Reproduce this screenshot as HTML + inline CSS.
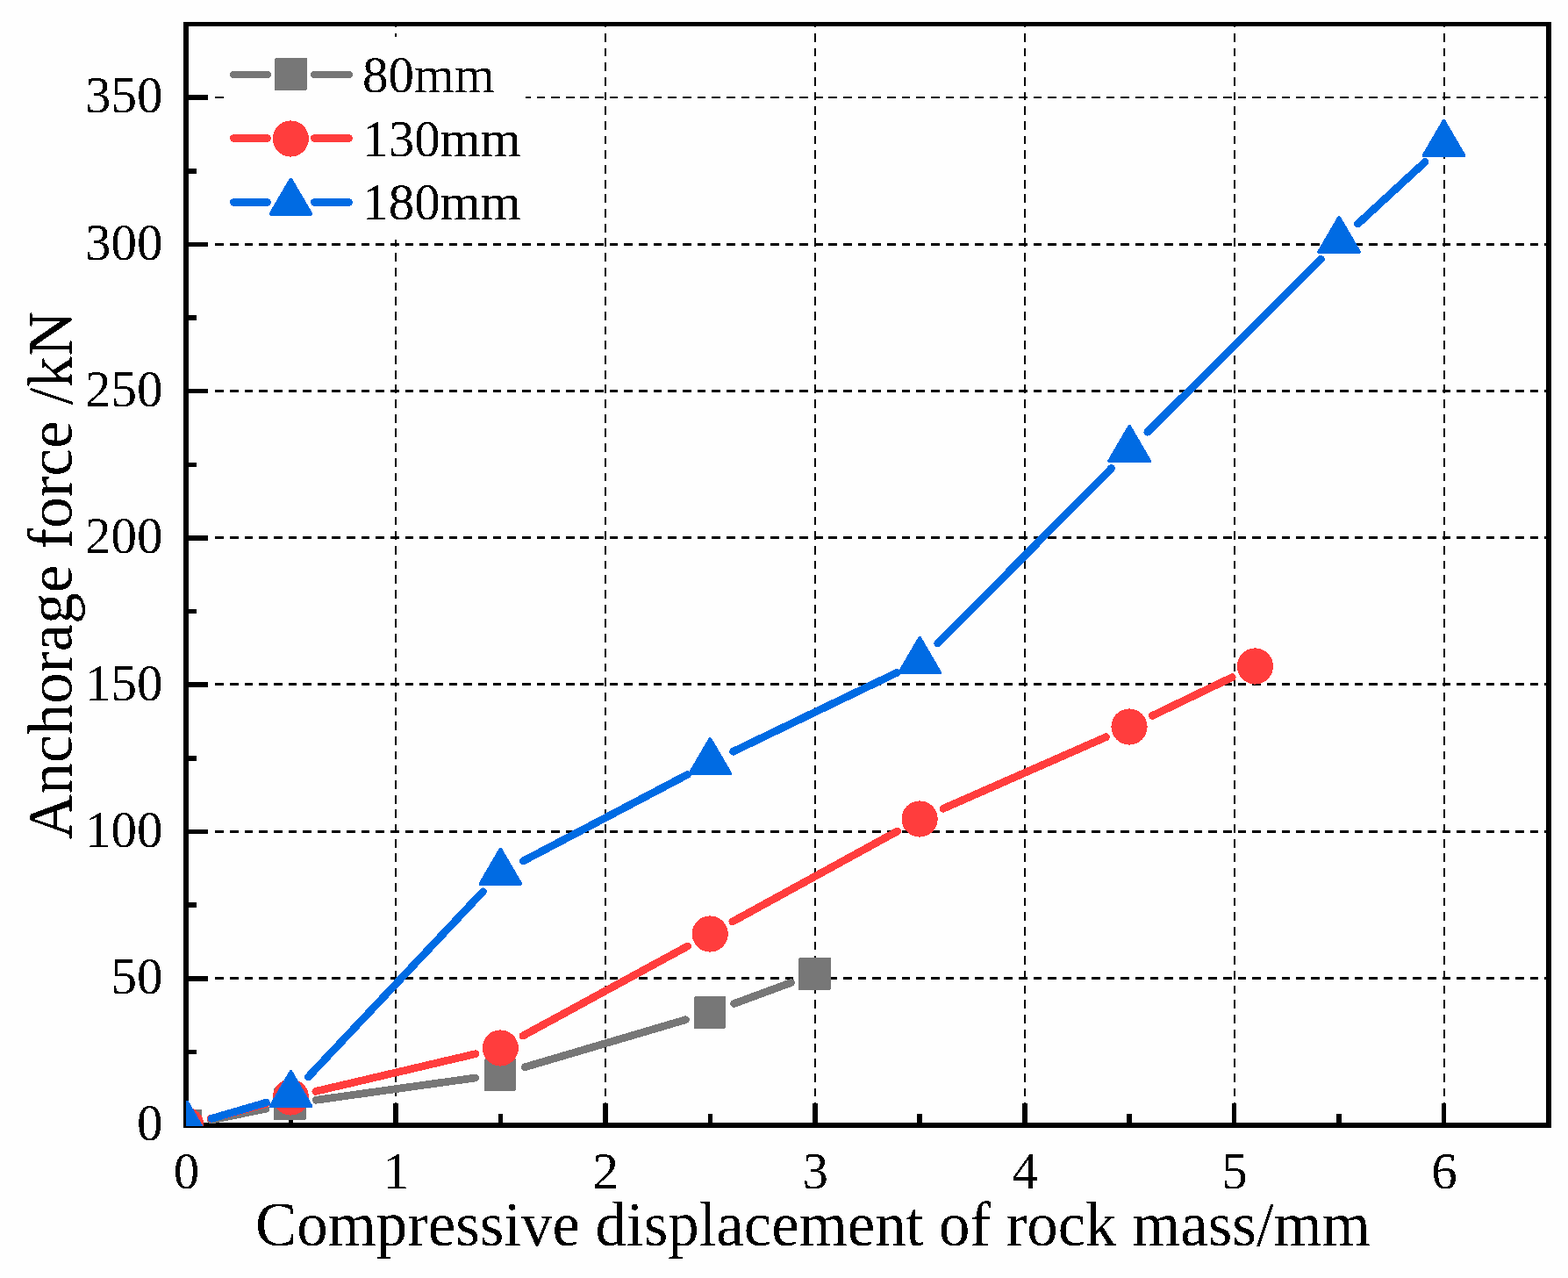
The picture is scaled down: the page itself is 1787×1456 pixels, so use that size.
<!DOCTYPE html>
<html lang="en"><head><meta charset="utf-8"><title>Anchorage force vs compressive displacement of rock mass</title>
<style>
html,body{margin:0;padding:0;background:#fefefe;}
body{width:1787px;height:1456px;overflow:hidden;}
svg{display:block;}
text{font-family:"Liberation Serif","Times New Roman",Times,serif;fill:#000;}
.tick{font-size:59px;}
.title{font-size:70.83px;}
</style></head><body>
<svg width="1787" height="1456" viewBox="0 0 1787 1456">
<rect x="0" y="0" width="1787" height="1456" fill="#fefefe"/>
<g shape-rendering="crispEdges" fill="#000">
<line x1="245.29" y1="111.0" x2="1765.00" y2="111.0" stroke="#000" stroke-width="2" stroke-dasharray="9.700 6.947"/>
<line x1="245.29" y1="278.5" x2="1765.00" y2="278.5" stroke="#000" stroke-width="3" stroke-dasharray="9.700 6.947"/>
<line x1="245.29" y1="445.5" x2="1765.00" y2="445.5" stroke="#000" stroke-width="3" stroke-dasharray="9.700 6.947"/>
<line x1="245.29" y1="612.5" x2="1765.00" y2="612.5" stroke="#000" stroke-width="3" stroke-dasharray="9.700 6.947"/>
<line x1="245.29" y1="779.5" x2="1765.00" y2="779.5" stroke="#000" stroke-width="3" stroke-dasharray="9.700 6.947"/>
<line x1="245.29" y1="947.5" x2="1765.00" y2="947.5" stroke="#000" stroke-width="3" stroke-dasharray="9.700 6.947"/>
<line x1="245.29" y1="1114.5" x2="1765.00" y2="1114.5" stroke="#000" stroke-width="3" stroke-dasharray="9.700 6.947"/>
<line x1="451.0" y1="1282.70" x2="451.0" y2="27.00" stroke="#000" stroke-width="2" stroke-dasharray="9.800 6.890"/>
<line x1="690.0" y1="1282.70" x2="690.0" y2="27.00" stroke="#000" stroke-width="2" stroke-dasharray="9.800 6.890"/>
<line x1="929.0" y1="1282.70" x2="929.0" y2="27.00" stroke="#000" stroke-width="2" stroke-dasharray="9.800 6.890"/>
<line x1="1168.0" y1="1282.70" x2="1168.0" y2="27.00" stroke="#000" stroke-width="2" stroke-dasharray="9.800 6.890"/>
<line x1="1407.0" y1="1282.70" x2="1407.0" y2="27.00" stroke="#000" stroke-width="2" stroke-dasharray="9.800 6.890"/>
<line x1="1646.0" y1="1282.70" x2="1646.0" y2="27.00" stroke="#000" stroke-width="2" stroke-dasharray="9.800 6.890"/>
</g>
<rect x="256" y="42" width="343" height="231" fill="#fefefe"/>
<g shape-rendering="crispEdges" fill="#000">
<rect x="209" y="25" width="6" height="1260"/>
<rect x="1762" y="25" width="6" height="1260"/>
<rect x="209" y="25" width="1559" height="5"/>
<rect x="209" y="1279" width="1559" height="6"/>
<rect x="215" y="108" width="22" height="6"/>
<rect x="215" y="276" width="22" height="5"/>
<rect x="215" y="443" width="22" height="5"/>
<rect x="215" y="610" width="22" height="6"/>
<rect x="215" y="777" width="22" height="6"/>
<rect x="215" y="945" width="22" height="5"/>
<rect x="215" y="1112" width="22" height="6"/>
<rect x="215" y="1196" width="9" height="5"/>
<rect x="215" y="1028" width="9" height="6"/>
<rect x="215" y="861" width="9" height="6"/>
<rect x="215" y="694" width="9" height="5"/>
<rect x="215" y="527" width="9" height="5"/>
<rect x="215" y="359" width="9" height="6"/>
<rect x="215" y="192" width="9" height="6"/>
<rect x="448" y="1257" width="6" height="22"/>
<rect x="687" y="1257" width="6" height="22"/>
<rect x="926" y="1257" width="6" height="22"/>
<rect x="1165" y="1257" width="6" height="22"/>
<rect x="1404" y="1257" width="5" height="22"/>
<rect x="1643" y="1257" width="5" height="22"/>
<rect x="329" y="1269" width="5" height="10"/>
<rect x="568" y="1269" width="5" height="10"/>
<rect x="807" y="1269" width="5" height="10"/>
<rect x="1045" y="1269" width="6" height="10"/>
<rect x="1284" y="1269" width="6" height="10"/>
<rect x="1523" y="1269" width="6" height="10"/>
</g>
<defs><clipPath id="plotclip"><rect x="212" y="27" width="1553" height="1256"/></clipPath></defs>
<g clip-path="url(#plotclip)" shape-rendering="crispEdges">
<g stroke="#777777" stroke-width="8.7" stroke-linecap="round" fill="none">
<line x1="240.50" y1="1276.11" x2="302.96" y2="1263.19"/>
<line x1="360.28" y1="1253.28" x2="541.56" y2="1228.02"/>
<line x1="598.29" y1="1215.76" x2="781.40" y2="1161.74"/>
<line x1="836.61" y1="1143.44" x2="901.46" y2="1119.56"/>
</g>
<g fill="#777777" stroke="#777777" stroke-width="0">
<rect x="193" y="1264" width="37" height="37" rx="2"/>
<rect x="312" y="1239" width="37" height="37" rx="2"/>
<rect x="552" y="1206" width="36" height="37" rx="2"/>
<rect x="791" y="1135" width="36" height="37" rx="2"/>
<rect x="910" y="1091" width="37" height="37" rx="2"/>
</g>
<g stroke="#ff3d3d" stroke-width="8.7" stroke-linecap="round" fill="none">
<line x1="240.11" y1="1274.47" x2="303.35" y2="1257.53"/>
<line x1="359.79" y1="1243.36" x2="542.05" y2="1200.64"/>
<line x1="595.95" y1="1180.09" x2="783.75" y2="1077.91"/>
<line x1="834.82" y1="1050.01" x2="1022.71" y2="946.99"/>
<line x1="1074.87" y1="921.29" x2="1260.51" y2="839.71"/>
<line x1="1313.37" y1="815.38" x2="1404.29" y2="771.62"/>
</g>
<g fill="#ff3d3d" stroke="#ff3d3d" stroke-width="0">
<circle cx="211.90" cy="1282.0" r="20.6"/>
<circle cx="331.36" cy="1250.0" r="20.6"/>
<circle cx="570.28" cy="1194.0" r="20.6"/>
<circle cx="809.21" cy="1064.0" r="20.6"/>
<circle cx="1048.13" cy="933.0" r="20.6"/>
<circle cx="1287.05" cy="828.0" r="20.6"/>
<circle cx="1430.41" cy="759.0" r="20.6"/>
</g>
<g stroke="#006be3" stroke-width="8.7" stroke-linecap="round" fill="none">
<line x1="241.13" y1="1274.35" x2="303.53" y2="1256.15"/>
<line x1="351.42" y1="1226.83" x2="550.42" y2="1015.77"/>
<line x1="596.14" y1="981.05" x2="783.55" y2="882.45"/>
<line x1="835.52" y1="856.27" x2="1022.01" y2="766.43"/>
<line x1="1068.72" y1="733.13" x2="1266.67" y2="533.47"/>
<line x1="1307.77" y1="492.26" x2="1505.46" y2="295.34"/>
<line x1="1547.48" y1="255.09" x2="1624.13" y2="184.51"/>
</g>
<g fill="#006be3" stroke="#006be3" stroke-width="0">
<polygon stroke-width="4.0" stroke-linejoin="round" points="213.2,1255.7 236.1,1294.9 190.3,1294.9"/>
<polygon stroke-width="4.0" stroke-linejoin="round" points="331.5,1221.2 354.4,1260.4 308.6,1260.4"/>
<polygon stroke-width="4.0" stroke-linejoin="round" points="570.4,967.8 593.3,1007.0 547.5,1007.0"/>
<polygon stroke-width="4.0" stroke-linejoin="round" points="809.3,842.1 832.2,881.3 786.4,881.3"/>
<polygon stroke-width="4.0" stroke-linejoin="round" points="1048.2,727.0 1071.1,766.2 1025.3,766.2"/>
<polygon stroke-width="4.0" stroke-linejoin="round" points="1287.2,486.0 1310.1,525.2 1264.3,525.2"/>
<polygon stroke-width="4.0" stroke-linejoin="round" points="1526.1,248.0 1549.0,287.2 1503.2,287.2"/>
<polygon stroke-width="4.0" stroke-linejoin="round" points="1645.5,138.0 1668.4,177.2 1622.6,177.2"/>
</g>
</g>
<g shape-rendering="crispEdges">
<g stroke="#777777" stroke-width="8" stroke-linecap="round">
<line x1="266.0" y1="85.0" x2="305.0" y2="85.0"/>
<line x1="358.0" y1="85.0" x2="398.0" y2="85.0"/>
</g>
<g fill="#777777" stroke="#777777" stroke-width="0"><rect x="313" y="66" width="37" height="37" rx="2"/></g>
<g stroke="#ff3d3d" stroke-width="9" stroke-linecap="round">
<line x1="266.5" y1="157.5" x2="304.5" y2="157.5"/>
<line x1="358.5" y1="157.5" x2="397.5" y2="157.5"/>
</g>
<g fill="#ff3d3d" stroke="#ff3d3d" stroke-width="0"><circle cx="331.30" cy="158.0" r="20.6"/></g>
<g stroke="#006be3" stroke-width="9" stroke-linecap="round">
<line x1="266.5" y1="230.5" x2="304.5" y2="230.5"/>
<line x1="358.5" y1="230.5" x2="397.5" y2="230.5"/>
</g>
<g fill="#006be3" stroke="#006be3" stroke-width="0"><polygon stroke-width="4.0" stroke-linejoin="round" points="331.4,204.6 354.3,243.8 308.5,243.8"/></g>
</g>
<defs><filter id="crisp" x="0" y="0" width="1787" height="1456" filterUnits="userSpaceOnUse" color-interpolation-filters="sRGB"><feComponentTransfer><feFuncA type="discrete" tableValues="0 1"/></feComponentTransfer></filter></defs>
<g filter="url(#crisp)">
<text class="tick" x="413" y="105">80mm</text>
<text class="tick" x="413.3" y="178">130mm</text>
<text class="tick" x="413.3" y="249.6">180mm</text>
<text class="tick" text-anchor="end" x="185.5" y="1299.3">0</text>
<text class="tick" text-anchor="end" x="185.5" y="1132.0">50</text>
<text class="tick" text-anchor="end" x="185.5" y="964.8">100</text>
<text class="tick" text-anchor="end" x="185.5" y="797.5">150</text>
<text class="tick" text-anchor="end" x="185.5" y="630.2">200</text>
<text class="tick" text-anchor="end" x="185.5" y="463.0">250</text>
<text class="tick" text-anchor="end" x="185.5" y="295.7">300</text>
<text class="tick" text-anchor="end" x="185.5" y="128.4">350</text>
<text class="tick" text-anchor="middle" x="212.5" y="1353.6">0</text>
<text class="tick" text-anchor="middle" x="451.4" y="1353.6">1</text>
<text class="tick" text-anchor="middle" x="690.3" y="1353.6">2</text>
<text class="tick" text-anchor="middle" x="929.3" y="1353.6">3</text>
<text class="tick" text-anchor="middle" x="1168.2" y="1353.6">4</text>
<text class="tick" text-anchor="middle" x="1407.1" y="1353.6">5</text>
<text class="tick" text-anchor="middle" x="1646.0" y="1353.6">6</text>
<text class="title" text-anchor="middle" x="926.4" y="1419.4">Compressive displacement of rock mass/mm</text>
<text class="title" style="font-size:71.3px" text-anchor="middle" transform="translate(81.5 655.4) rotate(-90)">Anchorage force /kN</text>
</g>
</svg></body></html>
